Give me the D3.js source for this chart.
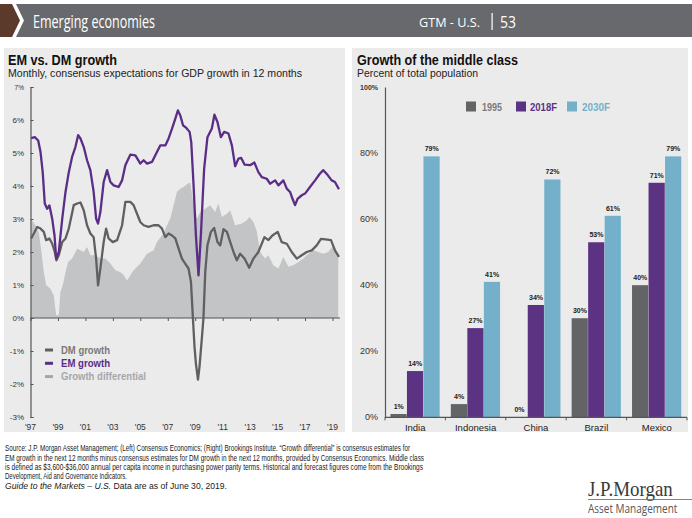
<!DOCTYPE html>
<html><head><meta charset="utf-8">
<script src="https://cdn.jsdelivr.net/npm/d3@7"></script>
<style>
html,body{margin:0;padding:0;background:#fff;}
svg{display:block;font-family:"Liberation Sans",Arial,sans-serif;}
</style></head>
<body>
<svg id="c" width="692" height="518"></svg>
<script>
// ---------- DATA ----------
// Left chart: [decimal year, % expected GDP growth]
const emGrowth = [
[1997.05,5.45],[1997.31,5.48],[1997.56,5.38],[1997.73,5.03],[1997.89,4.42],[1998.04,3.47],[1998.21,3.31],[1998.38,3.41],
[1998.58,3.01],[1998.75,2.5],[1998.87,1.8],[1999.06,2.0],[1999.31,3.0],[1999.55,3.82],[1999.79,4.42],[2000.03,4.88],
[2000.27,5.18],[2000.47,5.54],[2000.64,5.44],[2000.88,5.18],[2001.12,4.78],[2001.36,4.48],[2001.6,3.82],[2001.78,3.01],
[2001.92,2.86],[2002.09,3.21],[2002.33,4.12],[2002.58,4.48],[2002.82,4.12],[2003.06,4.02],[2003.42,3.97],[2003.67,4.17],
[2003.91,4.63],[2004.27,4.95],[2004.64,4.93],[2005.0,4.68],[2005.24,4.78],[2005.49,4.68],[2005.85,4.73],[2006.21,5.03],
[2006.45,5.23],[2006.82,5.23],[2007.06,5.44],[2007.31,5.74],[2007.55,6.04],[2007.74,6.29],[2007.91,6.14],[2008.11,5.84],
[2008.35,5.76],[2008.59,5.64],[2008.71,5.33],[2008.88,4.02],[2009.05,2.5],[2009.24,1.29],[2009.41,2.5],[2009.65,4.53],
[2009.89,5.48],[2010.21,5.74],[2010.4,6.16],[2010.62,5.94],[2010.87,5.48],[2011.11,5.64],[2011.42,5.59],[2011.67,5.23],
[2011.91,4.6],[2012.15,4.83],[2012.35,4.85],[2012.59,4.65],[2013.0,4.63],[2013.31,4.71],[2013.6,4.42],[2013.85,4.27],
[2014.21,4.22],[2014.45,4.07],[2014.82,4.17],[2015.06,4.02],[2015.42,4.17],[2015.67,3.92],[2015.91,3.82],[2016.08,3.62],
[2016.27,3.42],[2016.47,3.62],[2016.76,3.72],[2017.0,3.77],[2017.36,3.97],[2017.73,4.17],[2018.09,4.38],[2018.33,4.48],
[2018.65,4.33],[2018.94,4.17],[2019.18,4.12],[2019.38,3.97],[2019.47,3.9]
];
const dmGrowth = [
[1997.05,2.41],[1997.24,2.56],[1997.49,2.76],[1997.73,2.71],[1997.97,2.61],[1998.14,2.36],[1998.38,2.41],[1998.58,2.25],
[1998.77,2.0],[1998.89,1.75],[1999.06,1.9],[1999.31,2.3],[1999.55,2.41],[1999.79,2.71],[2000.15,3.42],[2000.4,3.47],
[2000.64,3.5],[2000.88,3.26],[2001.12,2.81],[2001.36,2.56],[2001.6,2.45],[2001.78,1.8],[2001.92,0.99],[2002.09,1.5],
[2002.33,2.3],[2002.51,2.71],[2002.69,2.41],[2002.99,2.3],[2003.31,2.36],[2003.67,2.81],[2003.91,3.52],[2004.27,3.52],
[2004.51,3.42],[2004.76,3.16],[2005.0,2.91],[2005.24,2.81],[2005.6,2.76],[2005.97,2.81],[2006.33,2.81],[2006.58,2.71],
[2006.82,2.45],[2007.06,2.56],[2007.31,2.5],[2007.55,2.41],[2007.79,2.1],[2008.03,1.8],[2008.27,1.65],[2008.51,1.5],
[2008.69,1.09],[2008.83,0.0],[2008.95,-0.88],[2009.05,-1.38],[2009.2,-1.87],[2009.31,-1.48],[2009.49,-0.58],[2009.6,0.0],
[2009.73,1.39],[2009.89,2.2],[2010.14,2.61],[2010.38,2.73],[2010.62,2.3],[2010.82,2.2],[2011.06,2.69],[2011.31,2.61],
[2011.55,2.3],[2011.79,2.0],[2012.03,1.75],[2012.27,1.95],[2012.59,1.8],[2012.93,1.52],[2013.24,1.8],[2013.6,2.0],
[2014.04,2.45],[2014.33,2.36],[2014.62,2.5],[2015.01,2.61],[2015.3,2.3],[2015.67,2.25],[2016.03,2.0],[2016.4,1.8],
[2016.76,1.9],[2017.12,2.0],[2017.49,2.05],[2017.85,2.2],[2018.16,2.4],[2018.5,2.38],[2018.89,2.36],[2019.18,2.05],
[2019.47,1.85]
];
const growthDiff = [
[1997.05,3.0],[1997.36,2.8],[1997.6,2.6],[1997.8,2.0],[1997.97,1.39],[1998.14,1.0],[1998.45,0.89],[1998.69,0.69],
[1998.87,0.08],[1999.06,0.08],[1999.18,0.79],[1999.35,1.0],[1999.55,1.39],[1999.74,1.7],[2000.03,1.8],[2000.4,2.1],
[2000.64,2.05],[2000.88,2.0],[2001.12,2.15],[2001.36,1.9],[2001.73,1.9],[2002.09,1.8],[2002.45,1.8],[2002.82,1.65],
[2003.18,1.45],[2003.55,1.39],[2003.79,1.3],[2004.03,1.14],[2004.51,1.45],[2005.0,1.65],[2005.49,1.95],[2005.97,2.05],
[2006.21,2.3],[2006.69,2.56],[2006.94,2.81],[2007.18,3.01],[2007.42,3.42],[2007.67,3.82],[2007.91,3.92],[2008.15,3.97],
[2008.44,4.07],[2008.64,4.1],[2008.88,3.42],[2009.13,3.01],[2009.36,3.21],[2009.73,3.31],[2010.09,3.42],[2010.45,3.21],
[2010.69,3.47],[2010.94,3.06],[2011.31,3.16],[2011.55,3.26],[2011.91,2.81],[2012.4,2.86],[2012.76,2.96],[2012.93,3.06],
[2013.24,2.91],[2013.49,2.61],[2013.73,2.0],[2014.09,1.8],[2014.33,1.9],[2014.69,1.6],[2015.06,1.5],[2015.42,1.85],
[2015.79,1.55],[2016.15,1.6],[2016.51,1.7],[2016.88,1.8],[2017.24,1.95],[2017.6,2.05],[2017.97,2.0],[2018.33,1.95],
[2018.69,2.0],[2019.06,2.2],[2019.3,1.95],[2019.42,1.9]
];
const leftYTicks = [-3,-2,-1,0,1,2,3,4,5,6,7];
const leftXTicks = [1997,1999,2001,2003,2005,2007,2009,2011,2013,2015,2017,2019];
const leftXLabels = ["'97","'99","'01","'03","'05","'07","'09","'11","'13","'15","'17","'19"];

// Right chart
const countries = ["India","Indonesia","China","Brazil","Mexico"];
const seriesNames = ["1995","2018F","2030F"];
const values1995 = [1,4,0,30,40];
const values2018 = [14,27,34,53,71];
const values2030 = [79,41,72,61,79];
const rightYTicks = [0,20,40,60,80,100];

// ---------- DRAW ----------
const svg = d3.select("#c");

function txt(x,y,s,opt){
  const t = svg.append("text").attr("x",x).attr("y",y).text(s);
  Object.entries(opt||{}).forEach(([k,v])=>t.attr(k,v));
  return t;
}

// header
svg.append("polygon").attr("points","0,4 12,4 20,20.5 12,37 0,37").attr("fill","#5b3a2b");
svg.append("polygon").attr("points","16,4 692,4 692,37 16,37 24,20.5").attr("fill","#67696c");
txt(33,28,"Emerging economies",{fill:"#fff","font-family":"'Open Sans',sans-serif","font-size":17.5,textLength:122,lengthAdjust:"spacingAndGlyphs"});
txt(419,27,"GTM - U.S.",{fill:"#fff","font-family":"'Open Sans',sans-serif","font-size":12,textLength:61,lengthAdjust:"spacingAndGlyphs"});
svg.append("rect").attr("x",491.5).attr("y",13).attr("width",1.2).attr("height",17).attr("fill","#fff");
txt(500,28,"53",{fill:"#fff","font-family":"'Open Sans',sans-serif","font-size":16.5,textLength:16,lengthAdjust:"spacingAndGlyphs"});

// panels
svg.append("rect").attr("x",4).attr("y",48).attr("width",341).attr("height",384).attr("fill","#ebebeb");
svg.append("rect").attr("x",352).attr("y",48).attr("width",336).attr("height",384).attr("fill","#ebebeb");

// titles
txt(8,64.5,"EM vs. DM growth",{"font-size":14,"font-weight":"bold",fill:"#111",textLength:109,lengthAdjust:"spacingAndGlyphs"});
txt(8,77,"Monthly, consensus expectations for GDP growth in 12 months",{"font-size":10.5,fill:"#222",textLength:294,lengthAdjust:"spacingAndGlyphs"});
txt(357,64.5,"Growth of the middle class",{"font-size":14,"font-weight":"bold",fill:"#111",textLength:161,lengthAdjust:"spacingAndGlyphs"});
txt(357,77,"Percent of total population",{"font-size":10.5,fill:"#222",textLength:121,lengthAdjust:"spacingAndGlyphs"});

// ----- left chart -----
const x = d3.scaleLinear().domain([1997,2019]).range([30.5,332.5]);
const y = d3.scaleLinear().domain([-3,7]).range([417,87]);
const gL = svg.append("g");

gL.append("path").datum(growthDiff)
  .attr("d", d3.area().x(d=>x(d[0])).y0(y(0)).y1(d=>y(d[1])))
  .attr("fill","#c3c4c6");

const yAxisL = d3.axisRight(y).tickValues(leftYTicks).tickSize(3).tickFormat("");
gL.append("g").attr("transform",`translate(${x(1997)},0)`).call(yAxisL)
  .call(g=>{g.select(".domain").attr("stroke","#555").attr("stroke-width",1.2);g.selectAll(".tick line").attr("stroke","#555");});
leftYTicks.forEach(v=>{
  txt(24,y(v)+3,v+"%",{"font-size":v===7?6.5:8,"text-anchor":"end",fill:"#333"});
});
const xAxisL = d3.axisBottom(x).tickValues(leftXTicks).tickSize(3).tickFormat("");
gL.append("g").attr("transform",`translate(0,${y(0)})`).call(xAxisL)
  .call(g=>{g.select(".domain").attr("d",`M${x(1997)},0H${x(2019.55)}`).attr("stroke","#555").attr("stroke-width",1.2);g.selectAll(".tick line").attr("stroke","#555");});
leftXTicks.forEach((v,i)=>{
  txt(x(v),430,leftXLabels[i],{"font-size":8.5,"text-anchor":"middle",fill:"#333"});
});

const line = d3.line().x(d=>x(d[0])).y(d=>y(d[1]));
gL.append("path").datum(dmGrowth).attr("d",line).attr("fill","none").attr("stroke","#606062").attr("stroke-width",2.3).attr("stroke-linejoin","round");
gL.append("path").datum(emGrowth).attr("d",line).attr("fill","none").attr("stroke","#5a2d87").attr("stroke-width",2.3).attr("stroke-linejoin","round");

// left legend
const legL = [["DM growth","#606062","#7a7a7a",49],["EM growth","#5a2d87","#5a2d87",49],["Growth differential","#a6a7a9","#a6a7a9",85]];
legL.forEach((d,i)=>{
  const yy = 350 + i*13.3;
  svg.append("rect").attr("x",45).attr("y",yy-1.5).attr("width",8).attr("height",3).attr("fill",d[1]);
  txt(61,yy+3.5,d[0],{"font-size":10,"font-weight":"bold",fill:d[2],textLength:d[3],lengthAdjust:"spacingAndGlyphs"});
});

// ----- right chart -----
const x0 = d3.scaleBand().domain(countries).range([385,687]).paddingInner(0.18).paddingOuter(0.09);
const x1 = d3.scaleBand().domain(seriesNames).range([0,x0.bandwidth()]);
const yR = d3.scaleLinear().domain([0,100]).range([417.3,87]);
const colors = {"1995":"#636466","2018F":"#5c3283","2030F":"#74b0ca"};
const seriesVals = {"1995":values1995,"2018F":values2018,"2030F":values2030};
const gR = svg.append("g");

seriesNames.forEach(s=>{
  gR.selectAll(null).data(countries).enter().append("rect")
    .attr("x",c=>x0(c)+x1(s)).attr("width",x1.bandwidth()-0.3)
    .attr("y",(c,i)=>yR(seriesVals[s][i])).attr("height",(c,i)=>yR(0)-yR(seriesVals[s][i]))
    .attr("fill",colors[s]);
  gR.selectAll(null).data(countries).enter().append("text")
    .attr("x",c=>x0(c)+x1(s)+x1.bandwidth()/2).attr("y",(c,i)=>yR(seriesVals[s][i])-5)
    .attr("text-anchor","middle").attr("font-size",7).attr("font-weight","bold").attr("fill","#222")
    .text((c,i)=>seriesVals[s][i]+"%");
});

const yAxisR = d3.axisLeft(yR).tickValues(rightYTicks).tickSize(0).tickFormat("");
gR.append("g").attr("transform","translate(385,0)").call(yAxisR)
  .call(g=>g.select(".domain").attr("stroke","#555").attr("stroke-width",1.2));
rightYTicks.forEach(v=>{
  txt(378,yR(v)+3,v+"%",{"font-size":v===100?7:9,"font-weight":v===100?"bold":"normal","text-anchor":"end",fill:"#333"});
});
const step = x0.step();
const bounds = countries.map(c=>x0(c)-step*0.09).concat([687]);
gR.append("line").attr("x1",385).attr("x2",687).attr("y1",yR(0)).attr("y2",yR(0)).attr("stroke","#555").attr("stroke-width",1.2);
gR.selectAll(null).data(bounds).enter().append("line")
  .attr("x1",d=>d).attr("x2",d=>d).attr("y1",yR(0)).attr("y2",yR(0)+3).attr("stroke","#555");
countries.forEach(c=>{
  txt(x0(c)+x0.bandwidth()/2,431,c,{"font-size":9.5,"text-anchor":"middle",fill:"#222"});
});

// right legend
const legR = [[466,482,20,"#7a7a7a"],[516,530,27,"#5c3283"],[567,582,28,"#74b0ca"]];
seriesNames.forEach((s,i)=>{
  const L = legR[i];
  svg.append("rect").attr("x",L[0]).attr("y",101.5).attr("width",10).attr("height",10).attr("fill",colors[s]);
  txt(L[1],110.5,s,{"font-size":10.5,"font-weight":"bold",fill:L[3],textLength:L[2],lengthAdjust:"spacingAndGlyphs"});
});

// footer
const foot = [
 ["Source: J.P. Morgan Asset Management; (Left) Consensus Economics; (Right) Brookings Institute. \u201cGrowth differential\u201d is consensus estimates for",405,451],
 ["EM growth in the next 12 months minus consensus estimates for DM growth in the next 12 months, provided by Consensus Economics. Middle class",419,460.5],
 ["is defined as $3,600-$36,000 annual per capita income in purchasing power parity terms. Historical and forecast figures come from the Brookings",418,470],
 ["Development, Aid and Governance Indicators.",122,479]
];
foot.forEach(f=>txt(5,f[2],f[0],{"font-size":9,fill:"#1a1a1a",textLength:f[1],lengthAdjust:"spacingAndGlyphs"}));
const last = svg.append("text").attr("x",5).attr("y",488.5).attr("font-size",9).attr("fill","#1a1a1a")
  .attr("textLength",222).attr("lengthAdjust","spacingAndGlyphs");
last.append("tspan").attr("font-style","italic").text("Guide to the Markets \u2013 U.S.");
last.append("tspan").text(" Data are as of June 30, 2019.");

// logo
svg.append("text").attr("transform","translate(588,496) scale(0.86,1)")
  .attr("font-family","'Liberation Serif','DejaVu Serif',serif").attr("font-size",22).attr("fill","#3a3a3a").text("J.P.Morgan");
svg.append("line").attr("x1",588).attr("x2",692).attr("y1",499.5).attr("y2",499.5).attr("stroke","#666").attr("stroke-width",0.8);
svg.append("text").attr("transform","translate(588,513) scale(0.8,1)")
  .attr("font-family","'Open Sans',sans-serif").attr("font-size",12.5).attr("fill","#555").text("Asset Management");
</script>
</body></html>
